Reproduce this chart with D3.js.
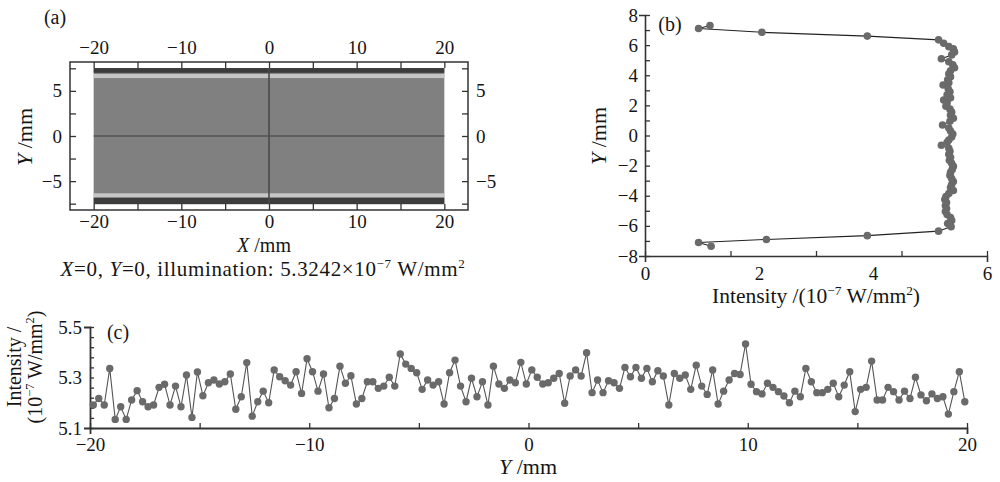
<!DOCTYPE html>
<html>
<head>
<meta charset="utf-8">
<script src="https://cdn.jsdelivr.net/npm/d3@7"></script>
<style>
  body { margin: 0; background: #fff; }
  svg text { font-family: "Liberation Serif", "DejaVu Serif", serif; fill: #151515; }
</style>
</head>
<body>
<svg id="chart" width="1000" height="482"></svg>
<script>
// --- Panel (a): illumination map bands (Y range in mm, gray level) ---
const bandY0 = [-7.55, 7.00, 6.42, -6.80, -7.55];
const bandY1 = [7.53, 7.53, 6.88, -6.35, -6.85];
const bandGray = ["#808080", "#3c3c3c", "#c6c6c6", "#c6c6c6", "#3c3c3c"];
const mapX = [-20, 20];
const crossX = [0];
const crossY = [0];
const aTicksX = [-20, -15, -10, -5, 0, 5, 10, 15, 20];
const aLabelsX = [-20, -10, 0, 10, 20];
const aTicksY = [-7.5, -5, -2.5, 0, 2.5, 5, 7.5];
const aLabelsY = [-5, 0, 5];

// --- Panel (b): profile along Y at X=0 ---
const bY = [7.3, 7.1, 6.85, 6.6, 6.35, 6.12, 5.9, 5.75, 5.55, 5.35, 5.1, 4.9, 4.7, 4.5, 4.3, 4.1, 3.9, 3.7, 3.5, 3.35,
  3.1, 2.9, 2.7, 2.5, 2.35, 2.15, 1.95, 1.75, 1.55, 1.35, 1.15, 0.95, 0.7, 0.5, 0.3, 0.1, -0.1, -0.3, -0.45, -0.65,
  -0.85, -1.05, -1.25, -1.45, -1.65, -1.85, -2.05, -2.25, -2.45, -2.65, -2.85, -3.05, -3.25, -3.45, -3.65, -3.85,
  -4.05, -4.25, -4.45, -4.65, -4.85, -5.05, -5.25, -5.45, -5.65, -5.85, -6.05, -6.35, -6.65, -6.9, -7.1, -7.35];
const bIntensity = [1.14, 0.94, 2.05, 3.9, 5.15, 5.24, 5.33, 5.41, 5.43, 5.38, 5.20, 5.33, 5.40, 5.43, 5.36, 5.33, 5.36, 5.31, 5.33, 5.23,
  5.32, 5.35, 5.30, 5.36, 5.24, 5.30, 5.28, 5.35, 5.38, 5.36, 5.41, 5.35, 5.22, 5.33, 5.36, 5.40, 5.38, 5.33, 5.30, 5.20,
  5.33, 5.35, 5.33, 5.36, 5.34, 5.38, 5.41, 5.39, 5.36, 5.35, 5.38, 5.41, 5.38, 5.36, 5.41, 5.33,
  5.28, 5.26, 5.29, 5.27, 5.29, 5.27, 5.30, 5.36, 5.38, 5.31, 5.37, 5.15, 3.9, 2.13, 0.94, 1.16];
const bTicksX = [0, 1.5, 3, 4.5, 6];
const bLabelsX = [0, 2, 4, 6];
const bTicksY = d3.range(-8, 9, 1);
const bLabelsY = [-8, -6, -4, -2, 0, 2, 4, 6, 8];

// --- Panel (c): intensity along Y, sampled every 0.25 mm ---
const cStart = -19.85;
const cStep = 0.25;
const cIntensity = [
  5.191, 5.217, 5.191, 5.336, 5.134, 5.184, 5.134, 5.211, 5.248, 5.204, 5.184, 5.191, 5.261, 5.273, 5.191, 5.266, 5.184, 5.310, 5.142, 5.322, 5.228, 5.279, 5.290, 5.274, 5.283, 5.314, 5.174,
  5.224, 5.359, 5.147, 5.204, 5.246, 5.200, 5.330, 5.303, 5.287, 5.270, 5.323, 5.237, 5.374, 5.323, 5.246, 5.314, 5.180, 5.217, 5.345, 5.277, 5.307, 5.195, 5.217, 5.283, 5.283, 5.257,
  5.266, 5.301, 5.266, 5.393, 5.353, 5.336, 5.319, 5.253, 5.290, 5.270, 5.283, 5.195, 5.319, 5.369, 5.266, 5.204, 5.297, 5.224, 5.283, 5.191, 5.345, 5.274, 5.257, 5.290, 5.279, 5.360, 5.274,
  5.330, 5.301, 5.274, 5.279, 5.297, 5.316, 5.198, 5.306, 5.330, 5.306, 5.398, 5.240, 5.290, 5.240, 5.287, 5.279, 5.257, 5.340, 5.303, 5.340, 5.297, 5.336, 5.283, 5.327, 5.306, 5.191, 5.316,
  5.297, 5.310, 5.253, 5.349, 5.266, 5.233, 5.330, 5.195, 5.246, 5.290, 5.316, 5.312, 5.433, 5.273, 5.244, 5.235, 5.277, 5.261, 5.244, 5.227, 5.200, 5.246, 5.224, 5.336, 5.283, 5.240, 5.240,
  5.253, 5.277, 5.224, 5.270, 5.323, 5.165, 5.253, 5.261, 5.365, 5.211, 5.211, 5.261, 5.244, 5.211, 5.246, 5.217, 5.301, 5.231, 5.208, 5.235, 5.217, 5.224, 5.155, 5.244, 5.323, 5.204
];
const cTicksX = d3.range(-20, 21, 5);
const cLabelsX = [-20, -10, 0, 10, 20];
const cTicksY = d3.range(0, 11).map(i => 5.1 + i * 0.04);
const cLabelsY = [5.1, 5.3, 5.5];

const AXIS = "#333";
const DOT = "#6a6a6a";
const FONT = "Liberation Serif";
const svg = d3.select("#chart");
const fmt = v => (v < 0 ? "\u2212" + Math.abs(v) : String(v));

// helper: text with optional superscript parts [[text, isSup, isItalic], ...]
function richText(g, x, y, parts, opts = {}) {
  const size = opts.size || 19;
  const t = g.append("text")
    .attr("x", x).attr("y", y)
    .attr("font-size", size)
    .attr("text-anchor", opts.anchor || "middle");
  if (opts.rotate) t.attr("transform", `rotate(-90,${x},${y})`);
  if (opts.spacing) t.attr("letter-spacing", opts.spacing);
  let prevSup = false;
  parts.forEach(([s, sup, ital]) => {
    const sp = t.append("tspan").text(s);
    if (sup) sp.attr("font-size", size * 0.62);
    if (sup && !prevSup) sp.attr("dy", -size * 0.38);
    else if (!sup && prevSup) sp.attr("dy", size * 0.38);
    if (ital) sp.attr("font-style", "italic");
    prevSup = sup;
  });
  return t;
}

// draw an axis, style it, optionally keep the domain line
function drawAxis(g, axis, transform, keepDomain, domainWidth) {
  const a = g.append("g").attr("transform", transform).call(axis);
  if (keepDomain) a.select(".domain").attr("stroke", AXIS).attr("stroke-width", domainWidth);
  else a.select(".domain").remove();
  a.selectAll("line").attr("stroke", AXIS).attr("stroke-width", 1.3);
  a.selectAll("text").attr("font-size", 19).attr("font-family", FONT).attr("fill", "#151515");
  return a;
}

// ================= Panel (a) =================
const xA = d3.scaleLinear().domain([-22.7, 22.7]).range([70, 468]);
const yA = d3.scaleLinear().domain([-8.2, 8.2]).range([210, 62]);
const gA = svg.append("g");

gA.selectAll("rect.band").data(bandY0).join("rect")
  .attr("class", "band")
  .attr("x", xA(mapX[0]))
  .attr("width", xA(mapX[1]) - xA(mapX[0]))
  .attr("y", (d, i) => yA(bandY1[i]))
  .attr("height", (d, i) => yA(bandY0[i]) - yA(bandY1[i]))
  .attr("fill", (d, i) => bandGray[i]);

gA.selectAll("line.cx").data(crossX).join("line")
  .attr("x1", d => xA(d)).attr("x2", d => xA(d))
  .attr("y1", yA(7.53)).attr("y2", yA(-7.55))
  .attr("stroke", "#4a4a4a").attr("stroke-width", 1.6);
gA.selectAll("line.cy").data(crossY).join("line")
  .attr("x1", xA(mapX[0])).attr("x2", xA(mapX[1]))
  .attr("y1", d => yA(d)).attr("y2", d => yA(d))
  .attr("stroke", "#555").attr("stroke-width", 1.4);

gA.append("rect")
  .attr("x", 70).attr("y", 62).attr("width", 398).attr("height", 148)
  .attr("fill", "none").attr("stroke", AXIS).attr("stroke-width", 1.5);

const labA = (list) => (d => list.includes(d) ? fmt(d) : "");
drawAxis(gA, d3.axisTop(xA).tickValues(aTicksX).tickSizeInner(-6).tickPadding(8).tickFormat(labA(aLabelsX)), "translate(0,62)");
drawAxis(gA, d3.axisBottom(xA).tickValues(aTicksX).tickSizeInner(-6).tickPadding(5).tickFormat(labA(aLabelsX)), "translate(0,210)");
drawAxis(gA, d3.axisLeft(yA).tickValues(aTicksY).tickSizeInner(-6).tickPadding(8).tickFormat(labA(aLabelsY)), "translate(70,0)");
drawAxis(gA, d3.axisRight(yA).tickValues(aTicksY).tickSizeInner(-6).tickPadding(8).tickFormat(labA(aLabelsY)), "translate(468,0)");

richText(gA, 55, 24, [["(a)"]], { size: 20 });
richText(gA, 32, 137, [["Y", false, true], [" /mm"]], { size: 22, rotate: true });
richText(gA, 264, 251.5, [["X", false, true], [" /mm"]], { size: 20 });
richText(gA, 263, 276, [["X", false, true], ["=0, "], ["Y", false, true],
  ["=0, illumination: 5.3242\u00d710"], ["\u22127", true], [" W/mm"], ["2", true]], { size: 21, spacing: 0.65 });

// ================= Panel (b) =================
const xB = d3.scaleLinear().domain([0, 6]).range([645, 987]);
const yB = d3.scaleLinear().domain([-8, 8]).range([256, 15]);
const gB = svg.append("g");

drawAxis(gB, d3.axisBottom(xB).tickValues(bTicksX).tickSizeInner(-5).tickFormat(""), "translate(0,256)", true, 1.6);
drawAxis(gB, d3.axisBottom(xB).tickValues(bLabelsX).tickSize(0).tickPadding(11).tickFormat(fmt), "translate(0,256)");
drawAxis(gB, d3.axisLeft(yB).tickValues(bTicksY).tickSizeInner(-5).tickPadding(7)
  .tickFormat(d => bLabelsY.includes(d) ? fmt(d) : ""), "translate(645,0)", true, 1.6);

const lineB = d3.line().x((d, i) => xB(bIntensity[i])).y(d => yB(d));
gB.append("path").datum(bY).attr("d", lineB)
  .attr("fill", "none").attr("stroke", "#222").attr("stroke-width", 1.1);
gB.selectAll("circle").data(bY).join("circle")
  .attr("cx", (d, i) => xB(bIntensity[i])).attr("cy", d => yB(d))
  .attr("r", 3.8).attr("fill", DOT);

richText(gB, 670, 31, [["(b)"]], { size: 20 });
richText(gB, 606, 136, [["Y", false, true], [" /mm"]], { size: 22, rotate: true });
richText(gB, 816, 303, [["Intensity /(10"], ["\u22127", true], [" W/mm"], ["2", true], [")"]], { size: 21.5 });

// ================= Panel (c) =================
const xC = d3.scaleLinear().domain([-20, 20]).range([90, 967]);
const yC = d3.scaleLinear().domain([5.1, 5.5]).range([428, 327]);
const gC = svg.append("g");

drawAxis(gC, d3.axisBottom(xC).tickValues(cTicksX).tickSizeInner(-5).tickPadding(10)
  .tickFormat(d => cLabelsX.includes(d) ? fmt(d) : ""), "translate(0,428)", true, 1.8);
drawAxis(gC, d3.axisLeft(yC).tickValues(cTicksY).tickSizeInner(-4).tickPadding(8)
  .tickFormat(d => cLabelsY.some(v => Math.abs(v - d) < 1e-6) ? d.toFixed(1) : ""), "translate(90,0)", true, 1.8);

const lineC = d3.line().x((d, i) => xC(cStart + i * cStep)).y(d => yC(d));
gC.append("path").datum(cIntensity).attr("d", lineC)
  .attr("fill", "none").attr("stroke", "#555").attr("stroke-width", 1.1);
gC.selectAll("circle").data(cIntensity).join("circle")
  .attr("cx", (d, i) => xC(cStart + i * cStep)).attr("cy", d => yC(d))
  .attr("r", 3.7).attr("fill", DOT);

richText(gC, 118, 339, [["(c)"]], { size: 20 });
richText(gC, 528, 474, [["Y", false, true], [" /mm"]], { size: 22 });
richText(gC, 21, 367, [["Intensity /"]], { size: 20, rotate: true });
richText(gC, 42, 367, [["(10"], ["\u22127", true], [" W/mm"], ["2", true], [")"]], { size: 20, rotate: true });
</script>
</body>
</html>
